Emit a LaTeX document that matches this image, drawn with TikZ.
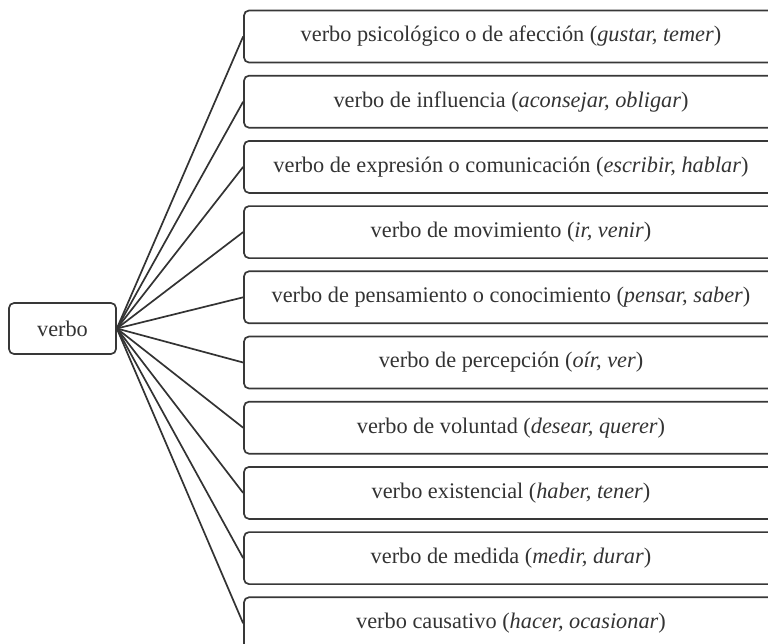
\documentclass[tikz,border=0pt]{standalone}
\usepackage{fontspec}
\setmainfont{Liberation Serif}
\begin{document}
\begin{tikzpicture}[x=1pt,y=-1pt,
  box/.style={draw=black!78,line width=1.7pt,rounded corners=5pt,inner sep=0pt,text=black!80,font=\fontsize{22.3}{25}\selectfont},
  cat/.style={box,minimum width=534pt,minimum height=52pt},
  link/.style={draw=black!80,line width=1.7pt}]
\useasboundingbox (0,0) rectangle (768,643);
\clip (0,0) rectangle (768,643);
\node[box,minimum width=107pt,minimum height=51pt] (v) at (62.5,328.5) {verbo};
\foreach \i/\t in {
  0/{verbo psicológico o de afección (\textit{gustar, temer})},
  1/{verbo de influencia (\textit{aconsejar, obligar})},
  2/{verbo de expresión o comunicación (\textit{escribir, hablar})},
  3/{verbo de movimiento (\textit{ir, venir})},
  4/{verbo de pensamiento o conocimiento (\textit{pensar, saber})},
  5/{verbo de percepción (\textit{oír, ver})},
  6/{verbo de voluntad (\textit{desear, querer})},
  7/{verbo existencial (\textit{haber, tener})},
  8/{verbo de medida (\textit{medir, durar})},
  9/{verbo causativo (\textit{hacer, ocasionar})}}{
  \node[cat] (b\i) at (511,36.5+65.2*\i) {\t};
  \draw[link] (v.east) -- (b\i.west);
}
\end{tikzpicture}
\end{document}
